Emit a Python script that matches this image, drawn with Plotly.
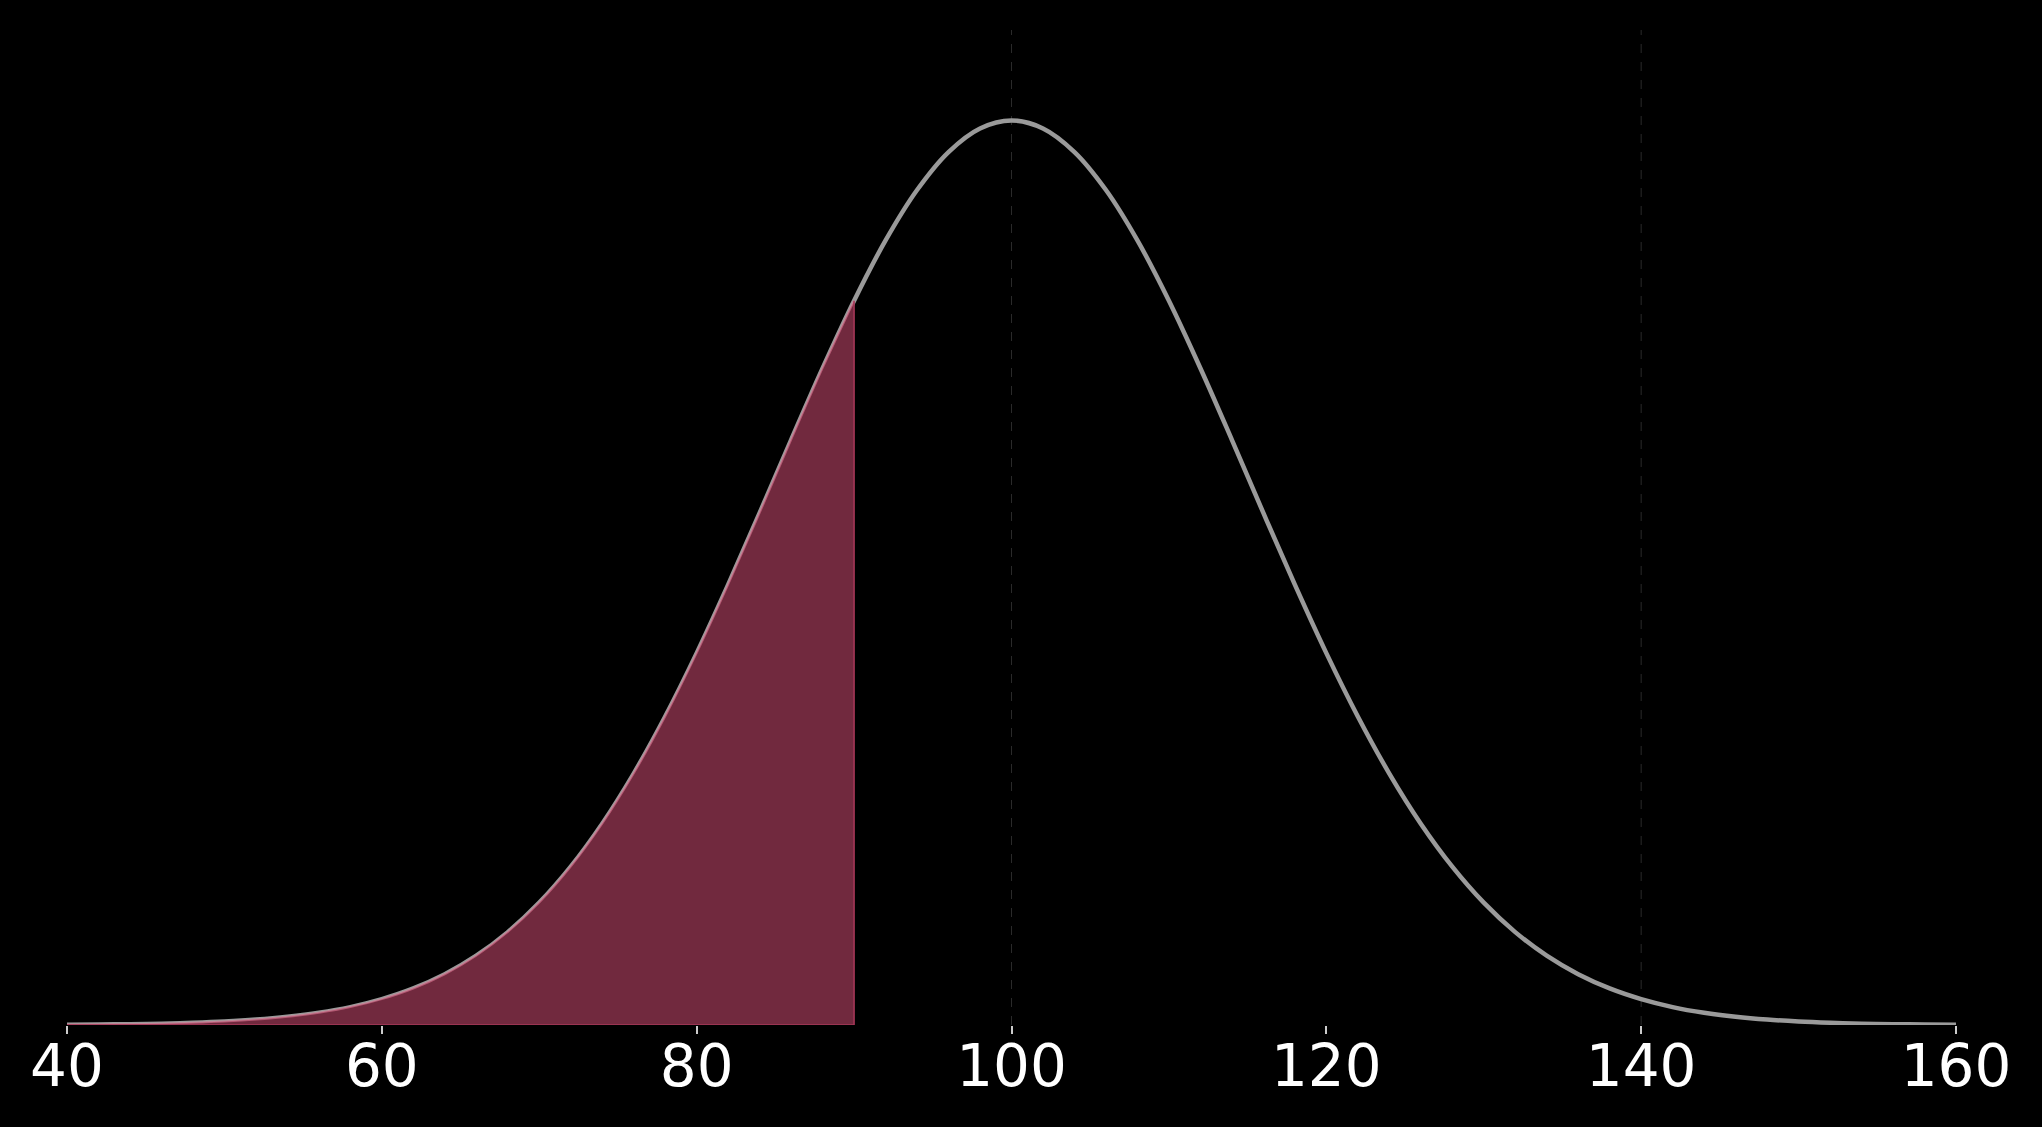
import plotly.graph_objects as go

# Curve: relative height (peak = 1) every 2 units
x_vals = list(range(40, 161, 2))
y_left = [0.0003, 0.0006, 0.0009, 0.0015, 0.0025, 0.0039, 0.0060, 0.0091, 0.0135, 0.0198,
          0.0286, 0.0404, 0.0561, 0.0766, 0.1027, 0.1353, 0.1751, 0.2226, 0.2780, 0.3411,
          0.4111, 0.4868, 0.5661, 0.6469, 0.7261, 0.8007, 0.8674, 0.9231, 0.9651, 0.9912]
y_vals = y_left + [1.0] + y_left[::-1]
cutoff = 90
tick_vals = [40, 60, 80, 100, 120, 140, 160]
grid_vals = [100, 140]

FILL_COLOR = "#71293e"
EDGE_COLOR = "rgba(225,120,150,0.6)"
CURVE_COLOR = "#9a9a9a"

shade_x = [x for x in x_vals if x <= cutoff]
shade_y = y_vals[:len(shade_x)]

fig = go.Figure()

# full curve
fig.add_trace(go.Scatter(
    x=x_vals, y=y_vals, mode="lines", line_shape="spline",
    line=dict(color=CURVE_COLOR, width=4.5),
    hoverinfo="skip", showlegend=False,
))

# shaded tail
fig.add_trace(go.Scatter(
    x=shade_x, y=shade_y, mode="lines", line_shape="spline",
    fill="tozeroy", fillcolor=FILL_COLOR,
    line=dict(color=EDGE_COLOR, width=2),
    hoverinfo="skip", showlegend=False,
))
# bottom + right edge of shaded area
fig.add_trace(go.Scatter(
    x=[shade_x[0], shade_x[-1], shade_x[-1]], y=[0, 0, shade_y[-1]],
    mode="lines", line=dict(color="#a8385a", width=1.5),
    hoverinfo="skip", showlegend=False,
))

for g in grid_vals:
    fig.add_shape(type="line", xref="x", yref="paper", x0=g, x1=g, y0=0, y1=1,
                  line=dict(color="#2a2a2a", width=1, dash="dash"), layer="below")

fig.update_layout(
    width=2042, height=1127,
    paper_bgcolor="black", plot_bgcolor="black",
    margin=dict(l=67, r=86, t=30, b=102),
    font=dict(family="DejaVu Sans", color="white", size=58),
    xaxis=dict(
        range=[40, 160], tickvals=tick_vals, ticks="outside", ticklen=8,
        tickwidth=2, tickcolor="#cccccc", showgrid=False, zeroline=False,
        showline=False, tickfont=dict(size=58, color="white"),
        ticklabelstandoff=-18,
    ),
    yaxis=dict(
        range=[0, 1.1], showgrid=False, zeroline=False, showticklabels=False,
        showline=False,
    ),
)

fig.write_html(
    "out.html",
    config={"displayModeBar": False},
    post_script="document.body.style.margin='0';document.body.style.background='black';",
)
